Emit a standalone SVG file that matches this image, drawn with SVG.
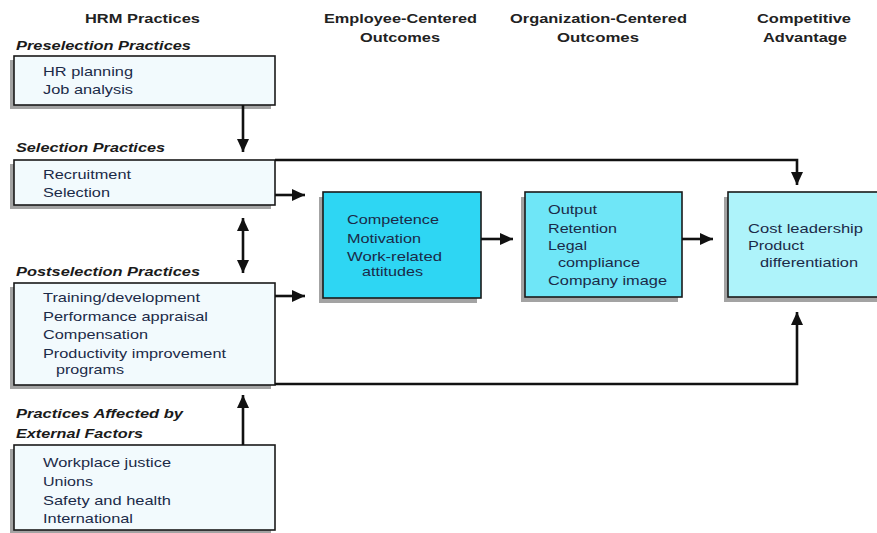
<svg xmlns="http://www.w3.org/2000/svg" width="877" height="533" viewBox="0 0 877 533">
<style>
.hd{font-family:"Liberation Sans",Arial,sans-serif;font-weight:bold;font-size:13.5px;fill:#222;}
.sec{font-family:"Liberation Sans",Arial,sans-serif;font-weight:bold;font-style:italic;font-size:13.5px;fill:#1a1a1a;}
.tx{font-family:"Liberation Sans",Arial,sans-serif;font-size:13.5px;fill:#1b2a48;}
.box{stroke:#1a1a1a;stroke-width:1.6;}
.sh{fill:#a3a3a3;}
.light{fill:#f2fafd;}
.c1{fill:#2ed6f3;}
.c2{fill:#6fe6f7;}
.c3{fill:#aef3fa;}
.con{fill:none;stroke:#111;stroke-width:2.6;}
</style>
<defs>
<marker id="ah" markerUnits="userSpaceOnUse" markerWidth="14" markerHeight="13" refX="13" refY="6" orient="auto-start-reverse" viewBox="0 0 14 13">
<path d="M0,0 L13,6 L0,12 z" fill="#111"/>
</marker>
</defs>
<rect width="877" height="533" fill="#fff"/>
<g id="headers">
<text class="hd" x="85" y="23" textLength="115" lengthAdjust="spacingAndGlyphs">HRM Practices</text>
<text class="hd" x="324" y="23" textLength="153" lengthAdjust="spacingAndGlyphs">Employee-Centered</text>
<text class="hd" x="360" y="42" textLength="80" lengthAdjust="spacingAndGlyphs">Outcomes</text>
<text class="hd" x="510" y="23" textLength="177" lengthAdjust="spacingAndGlyphs">Organization-Centered</text>
<text class="hd" x="557" y="42" textLength="82" lengthAdjust="spacingAndGlyphs">Outcomes</text>
<text class="hd" x="757" y="23" textLength="94" lengthAdjust="spacingAndGlyphs">Competitive</text>
<text class="hd" x="763" y="42" textLength="84" lengthAdjust="spacingAndGlyphs">Advantage</text>
</g>
<g id="preselection">
<text class="sec" x="16" y="50" textLength="175" lengthAdjust="spacingAndGlyphs">Preselection Practices</text>
<rect class="sh" x="10" y="60" width="261" height="49"/>
<rect class="box light" x="14" y="56" width="261" height="49"/>
<text class="tx" x="43" y="76" textLength="90" lengthAdjust="spacingAndGlyphs">HR planning</text>
<text class="tx" x="43" y="94" textLength="90" lengthAdjust="spacingAndGlyphs">Job analysis</text>
</g>
<g id="selection">
<text class="sec" x="16" y="152" textLength="149" lengthAdjust="spacingAndGlyphs">Selection Practices</text>
<rect class="sh" x="10" y="164" width="261" height="45"/>
<rect class="box light" x="14" y="160" width="261" height="45"/>
<text class="tx" x="43" y="179" textLength="88" lengthAdjust="spacingAndGlyphs">Recruitment</text>
<text class="tx" x="43" y="197" textLength="67" lengthAdjust="spacingAndGlyphs">Selection</text>
</g>
<g id="postselection">
<text class="sec" x="16" y="276" textLength="184" lengthAdjust="spacingAndGlyphs">Postselection Practices</text>
<rect class="sh" x="10" y="287" width="261" height="102"/>
<rect class="box light" x="14" y="283" width="261" height="102"/>
<text class="tx" x="43" y="302" textLength="157" lengthAdjust="spacingAndGlyphs">Training/development</text>
<text class="tx" x="43" y="321" textLength="165" lengthAdjust="spacingAndGlyphs">Performance appraisal</text>
<text class="tx" x="43" y="339" textLength="105" lengthAdjust="spacingAndGlyphs">Compensation</text>
<text class="tx" x="43" y="358" textLength="183" lengthAdjust="spacingAndGlyphs">Productivity improvement</text>
<text class="tx" x="56" y="374" textLength="68" lengthAdjust="spacingAndGlyphs">programs</text>
</g>
<g id="external">
<text class="sec" x="16" y="418" textLength="167" lengthAdjust="spacingAndGlyphs">Practices Affected by</text>
<text class="sec" x="16" y="438" textLength="127" lengthAdjust="spacingAndGlyphs">External Factors</text>
<rect class="sh" x="10" y="449" width="261" height="85"/>
<rect class="box light" x="14" y="445" width="261" height="85"/>
<text class="tx" x="43" y="467" textLength="128" lengthAdjust="spacingAndGlyphs">Workplace justice</text>
<text class="tx" x="43" y="486" textLength="50" lengthAdjust="spacingAndGlyphs">Unions</text>
<text class="tx" x="43" y="505" textLength="128" lengthAdjust="spacingAndGlyphs">Safety and health</text>
<text class="tx" x="43" y="523" textLength="90" lengthAdjust="spacingAndGlyphs">International</text>
</g>
<g id="employee">
<rect class="sh" x="319" y="197" width="158" height="106"/>
<rect class="box c1" x="323" y="192" width="158" height="106"/>
<text class="tx" x="347" y="224" textLength="92" lengthAdjust="spacingAndGlyphs">Competence</text>
<text class="tx" x="347" y="243" textLength="74" lengthAdjust="spacingAndGlyphs">Motivation</text>
<text class="tx" x="347" y="261" textLength="95" lengthAdjust="spacingAndGlyphs">Work-related</text>
<text class="tx" x="362" y="276" textLength="61" lengthAdjust="spacingAndGlyphs">attitudes</text>
</g>
<g id="organization">
<rect class="sh" x="521" y="197" width="157" height="105"/>
<rect class="box c2" x="525" y="192" width="157" height="105"/>
<text class="tx" x="548" y="214" textLength="49" lengthAdjust="spacingAndGlyphs">Output</text>
<text class="tx" x="548" y="233" textLength="69" lengthAdjust="spacingAndGlyphs">Retention</text>
<text class="tx" x="548" y="250" textLength="39" lengthAdjust="spacingAndGlyphs">Legal</text>
<text class="tx" x="558" y="267" textLength="82" lengthAdjust="spacingAndGlyphs">compliance</text>
<text class="tx" x="548" y="285" textLength="119" lengthAdjust="spacingAndGlyphs">Company image</text>
</g>
<g id="competitive">
<rect class="sh" x="724" y="197" width="160" height="105"/>
<rect class="box c3" x="728" y="192" width="160" height="105"/>
<text class="tx" x="748" y="233" textLength="115" lengthAdjust="spacingAndGlyphs">Cost leadership</text>
<text class="tx" x="748" y="250" textLength="56" lengthAdjust="spacingAndGlyphs">Product</text>
<text class="tx" x="760" y="267" textLength="98" lengthAdjust="spacingAndGlyphs">differentiation</text>
</g>
<g id="connectors">
<path class="con" d="M243,105 V152" marker-end="url(#ah)"/>
<path class="con" d="M275,160 H797 V185" marker-end="url(#ah)"/>
<path class="con" d="M275,195 H305" marker-end="url(#ah)"/>
<path class="con" d="M243,218 V273" marker-start="url(#ah)" marker-end="url(#ah)"/>
<path class="con" d="M275,296 H305" marker-end="url(#ah)"/>
<path class="con" d="M481,239 H513" marker-end="url(#ah)"/>
<path class="con" d="M682,239 H713" marker-end="url(#ah)"/>
<path class="con" d="M275,384 H797 V312" marker-end="url(#ah)"/>
<path class="con" d="M243,445 V395" marker-end="url(#ah)"/>
</g>
</svg>
